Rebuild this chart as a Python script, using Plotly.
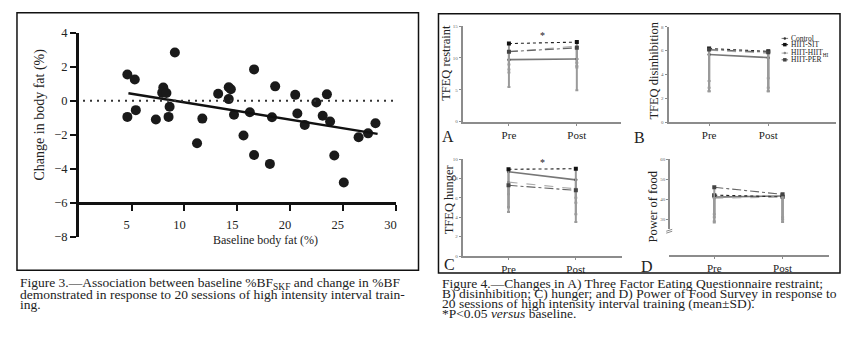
import plotly.graph_objects as go

W, H = 850, 353
def px(p): return p / W
def py(p): return 1 - p / H

SERIF = "Liberation Serif"

# ---------------- Figure 3 data ----------------
baseline_bf = [4.6, 5.3, 4.6, 5.4, 7.3, 8.0, 7.9, 8.3, 8.5, 8.6, 9.1, 11.2, 11.7, 13.2,
               14.2, 14.4, 14.2, 14.7, 15.6, 16.2, 16.6, 16.6, 18.1, 18.3, 18.6, 20.5,
               20.7, 21.4, 22.5, 23.1, 23.5, 23.8, 24.2, 25.1, 26.5, 27.4, 28.1]
change_bf = [1.55, 1.25, -0.95, -0.55, -1.1, 0.78, 0.48, 0.46, -0.95, -0.35, 2.85, -2.5, -1.05, 0.42,
             0.8, 0.68, 0.1, -0.82, -2.05, -0.68, 1.85, -3.2, -3.72, -0.97, 0.85, 0.35,
             -0.75, -1.42, -0.1, -0.88, 0.38, -1.22, -3.22, -4.82, -2.15, -1.92, -1.32]
fit_x = [4.7, 28.3]
fit_y = [0.45, -1.95]
x_ticks3 = [5, 10, 15, 20, 25, 30]
y_ticks3 = [-8, -6, -4, -2, 0, 2, 4]

# ---------------- Figure 4 data ----------------
categories = ["Pre", "Post"]
groups = ["Control", "HIIT-SIT", "HIIT-HIIT<sub>HI</sub>", "HIIT-PER"]

restraint_control = [9.74, 9.85]
restraint_sit = [12.27, 12.50]
restraint_hi = [11.00, 11.86]
restraint_per = [11.00, 11.60]
restraint_sd_control = [4.29, 4.91]
restraint_sd_sit = [3.29, 3.26]
restraint_sd_hi = [2.80, 3.13]
restraint_sd_per = [3.30, 3.10]

disinh_control = [5.68, 5.42]
disinh_sit = [6.18, 5.95]
disinh_hi = [6.05, 5.78]
disinh_per = [6.10, 5.88]
disinh_sd_control = [3.08, 2.82]
disinh_sd_sit = [2.73, 2.25]
disinh_sd_hi = [3.15, 2.88]
disinh_sd_per = [3.50, 3.28]

hunger_control = [8.68, 7.85]
hunger_sit = [8.94, 9.00]
hunger_hi = [7.62, 6.93]
hunger_per = [7.29, 6.77]
hunger_sd_control = [4.13, 4.35]
hunger_sd_sit = [3.89, 3.00]
hunger_sd_hi = [1.25, 2.63]
hunger_sd_per = [2.29, 1.27]

pof_control = [41.0, 41.6]
pof_sit = [42.0, 41.2]
pof_hi = [40.5, 41.0]
pof_per = [45.9, 42.4]
pof_sd_control = [12.6, 13.0]
pof_sd_sit = [9.5, 10.2]
pof_sd_hi = [11.5, 11.3]
pof_sd_per = [14.9, 12.4]

styles = [
    dict(dash="solid", color="#777777", width=1.6, symbol="circle", msize=3, mcolor="#333333"),
    dict(dash="dot", color="#222222", width=1.1, symbol="square", msize=4, mcolor="#111111"),
    dict(dash="dash", color="#aaaaaa", width=1.1, symbol="triangle-up", msize=3, mcolor="#888888"),
    dict(dash="dashdot", color="#666666", width=1.1, symbol="square", msize=4, mcolor="#444444"),
]

fig = go.Figure()

# ---- Figure 3 scatter ----
fig.add_trace(go.Scatter(x=baseline_bf, y=change_bf, mode="markers",
                         marker=dict(size=10, color="#1a1a1a"), xaxis="x", yaxis="y",
                         showlegend=False))
fig.add_trace(go.Scatter(x=fit_x, y=fit_y, mode="lines",
                         line=dict(color="#111111", width=2.5), xaxis="x", yaxis="y",
                         showlegend=False))

# ---- Figure 4 panels ----
panels = [
    ("x2", "y2", [restraint_control, restraint_sit, restraint_hi, restraint_per],
     [restraint_sd_control, restraint_sd_sit, restraint_sd_hi, restraint_sd_per]),
    ("x3", "y3", [disinh_control, disinh_sit, disinh_hi, disinh_per],
     [disinh_sd_control, disinh_sd_sit, disinh_sd_hi, disinh_sd_per]),
    ("x4", "y4", [hunger_control, hunger_sit, hunger_hi, hunger_per],
     [hunger_sd_control, hunger_sd_sit, hunger_sd_hi, hunger_sd_per]),
    ("x5", "y6", [pof_control, pof_sit, pof_hi, pof_per],
     [pof_sd_control, pof_sd_sit, pof_sd_hi, pof_sd_per]),
]
for xa, ya, means, sds in panels:
    for g, m, sd, st in zip(groups, means, sds, styles):
        fig.add_trace(go.Scatter(
            x=categories, y=m, mode="lines+markers", name=g, xaxis=xa, yaxis=ya,
            showlegend=False,
            line=dict(color=st["color"], width=st["width"], dash=st["dash"]),
            marker=dict(symbol=st["symbol"], size=st["msize"], color=st["mcolor"]),
            error_y=dict(type="data", symmetric=False, array=[0, 0], arrayminus=sd,
                         color="#9a9a9a", thickness=2, width=1.5),
        ))

panel_axis = dict(showline=True, linecolor="#8c8c8c", linewidth=2, showgrid=False,
                  zeroline=False, ticks="outside", ticklen=2, tickcolor="#8c8c8c",
                  tickwidth=1)
ytickfont = dict(family=SERIF, size=5, color="#666666")
xtickfont = dict(family=SERIF, size=11, color="#222222")

layout = dict(
    width=W, height=H, margin=dict(l=0, r=0, t=0, b=0),
    paper_bgcolor="white", plot_bgcolor="rgba(0,0,0,0)", showlegend=False,
    font=dict(family=SERIF, color="#222222"),
    xaxis=dict(domain=[px(78.9), px(396)], range=[0, 30], anchor="free", position=py(204),
               showline=True, linecolor="#111111", linewidth=2.5, showgrid=False, zeroline=False,
               ticks="outside", ticklen=6, tickwidth=2, tickcolor="#111111",
               tickvals=x_ticks3, tickfont=dict(family=SERIF, size=12.5, color="#222222"),
               ticklabelshift=-5, ticklabelstandoff=3),
    yaxis=dict(domain=[py(239), py(27)], range=[-8, 4], anchor="x",
               showline=True, linecolor="#111111", linewidth=2.5, showgrid=False, zeroline=False,
               ticks="outside", ticklen=6, tickwidth=2, tickcolor="#111111",
               tickvals=y_ticks3, tickfont=dict(family=SERIF, size=12.5, color="#222222")),
    # Panel A
    xaxis2=dict(domain=[px(463.3), px(621.7)], range=[-0.68, 1.65], anchor="y2",
                type="category", tickfont=xtickfont, **panel_axis),
    yaxis2=dict(domain=[py(119.3), py(20)], range=[0, 15], anchor="x2",
                tickvals=[0, 5, 10, 15], tickfont=ytickfont, **panel_axis),
    # Panel B
    xaxis3=dict(domain=[px(669.3), px(836.7)], range=[-0.686, 2.14], anchor="y3",
                type="category", tickfont=xtickfont, **panel_axis),
    yaxis3=dict(domain=[py(120), py(20.7)], range=[0, 8], anchor="x3",
                tickvals=[0, 2, 4, 6, 8], tickfont=ytickfont, **panel_axis),
    # Panel C
    xaxis4=dict(domain=[px(463.3), px(623)], range=[-0.68, 1.69], anchor="y4",
                type="category", tickfont=xtickfont, **panel_axis),
    yaxis4=dict(domain=[py(259.3), py(158.3)], range=[0, 10], anchor="x4",
                tickvals=[0, 2, 4, 6, 8, 10], tickfont=ytickfont, **panel_axis),
    # Panel D (broken axis: y5 lower part, y6 upper part)
    xaxis5=dict(domain=[px(670), px(830)], range=[-0.66, 1.68], anchor="free",
                position=py(259.3), type="category", tickfont=xtickfont, **panel_axis),
    yaxis5=dict(domain=[py(259.3), py(233)], range=[0, 10.82], anchor="free",
                position=px(670), tickvals=[0, 10], tickfont=ytickfont, **panel_axis),
    yaxis6=dict(domain=[py(231), py(158.3)], range=[25.2, 60], anchor="free",
                position=px(670), tickvals=[30, 40, 50, 60], tickfont=ytickfont, **panel_axis),
)
fig.update_layout(**layout)

# ---- shapes ----
shapes = [
    dict(type="rect", xref="paper", yref="paper", x0=px(17), x1=px(419), y0=py(274), y1=py(6),
         line=dict(color="#111111", width=1.5)),
    dict(type="rect", xref="paper", yref="paper", x0=px(439), x1=px(841), y0=py(277), y1=py(7),
         line=dict(color="#111111", width=1.5)),
    dict(type="line", xref="x", yref="y", x0=0.4, x1=30, y0=0, y1=0,
         line=dict(color="#333333", width=2, dash="2px,5px")),
    # axis break marks in panel D
    dict(type="line", xref="paper", yref="paper", x0=px(667), x1=px(673), y0=py(233.5), y1=py(231.5),
         line=dict(color="#8c8c8c", width=1)),
    dict(type="line", xref="paper", yref="paper", x0=px(667), x1=px(673), y0=py(235.5), y1=py(233.5),
         line=dict(color="#8c8c8c", width=1)),
]
# manual legend in panel B
legend_rows = [32.7, 39.2, 48.0, 55.0]
for row, st in zip(legend_rows, styles):
    shapes.append(dict(type="line", xref="paper", yref="paper", x0=px(782.5), x1=px(789),
                       y0=py(row), y1=py(row), line=dict(color=st["color"], width=1)))
    if st["symbol"] == "square":
        shapes.append(dict(type="rect", xref="paper", yref="paper", x0=px(784), x1=px(787.5),
                           y0=py(row + 1.8), y1=py(row - 1.8), fillcolor=st["mcolor"],
                           line=dict(width=0)))
    else:
        shapes.append(dict(type="circle", xref="paper", yref="paper", x0=px(784.5), x1=px(787),
                           y0=py(row + 1.3), y1=py(row - 1.3), fillcolor=st["mcolor"],
                           line=dict(width=0)))
fig.update_layout(shapes=shapes)

# ---- annotations ----
ann = []
def text(x, y, s, size, xanchor="left", angle=0, color="#222222", yanchor="middle"):
    ann.append(dict(x=px(x), y=py(y), xref="paper", yref="paper", text=s, showarrow=False,
                    xanchor=xanchor, yanchor=yanchor, textangle=angle,
                    font=dict(family=SERIF, size=size, color=color)))

text(40, 112, "Change in body fat (%)", 14, xanchor="center", angle=-90)
text(266, 243, "Baseline body fat (%)", 12, xanchor="center")

text(446.7, 58, "TFEQ restraint", 12.5, xanchor="center", angle=-90)
text(655, 66, "TFEQ disinhibition", 12.5, xanchor="center", angle=-90)
text(449.3, 200.5, "TFEQ hunger", 12.5, xanchor="center", angle=-90)
text(654, 207.5, "Power of food", 12.5, xanchor="center", angle=-90)

text(441, 135, "A", 16)
text(632.5, 136, "B", 16)
text(443, 268.5, "C", 16)
text(639.5, 270, "D", 16)

text(543.3, 30, "*", 10, xanchor="center")
text(543.3, 161.5, "*", 10, xanchor="center")

for row, g in zip(legend_rows, groups):
    text(790, row, g, 7.5)

# captions
cap = 13.5
text(18, 288, "Figure 3.—Association between baseline %BF<sub>SKF</sub> and change in %BF", cap)
text(18, 299, "demonstrated in response to 20 sessions of high intensity interval train-", cap)
text(18, 310, "ing.", cap)

text(441, 287.5, "Figure 4.—Changes in A) Three Factor Eating Questionnaire restraint;", cap)
text(441, 298, "B) disinhibition; C) hunger; and D) Power of Food Survey in response to", cap)
text(441, 308.5, "20 sessions of high intensity interval training (mean±SD).", cap)
text(441, 319, "*P&lt;0.05 <i>versus</i> baseline.", cap)

fig.update_layout(annotations=ann)
fig.write_html("out.html")
